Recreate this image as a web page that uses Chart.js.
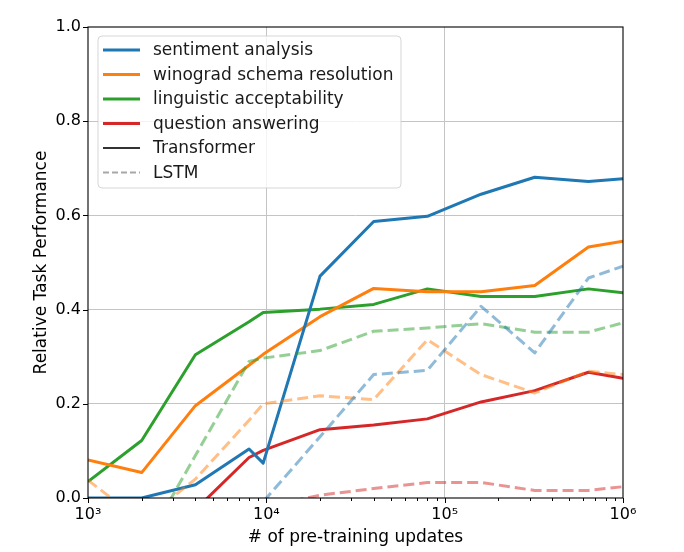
<!DOCTYPE html>
<html>
<head>
<meta charset="utf-8">
<script src="https://cdn.jsdelivr.net/npm/chart.js@4.4.0/dist/chart.umd.min.js"></script>
<style>
html,body{margin:0;padding:0;background:#fff;}
#wrap{width:684px;height:552px;position:relative;}
</style>
</head>
<body>
<div id="wrap"><canvas id="c" width="684" height="552"></canvas></div>
<script>
// ---- data ----
const updates = [1000, 2000, 4000, 8000, 9600, 20000, 40000, 80000, 160000, 320000, 640000, 1000000];

const tfSentiment   = [0.000, 0.000, 0.028, 0.104, 0.074, 0.471, 0.587, 0.598, 0.645, 0.681, 0.672, 0.678];
const tfWinograd    = [0.081, 0.054, 0.196, 0.282, 0.305, 0.385, 0.445, 0.438, 0.438, 0.451, 0.533, 0.545];
const tfLinguistic  = [0.035, 0.122, 0.304, 0.374, 0.394, 0.401, 0.411, 0.444, 0.428, 0.428, 0.444, 0.436];
const tfQA          = [-0.150, -0.080, -0.025, 0.086, 0.101, 0.145, 0.155, 0.168, 0.204, 0.228, 0.267, 0.254];

const lstmSentiment  = [-0.300, -0.200, -0.100, -0.030, -0.008, 0.130, 0.262, 0.271, 0.407, 0.308, 0.467, 0.492];
const lstmWinograd   = [0.038, -0.050, 0.040, 0.165, 0.200, 0.217, 0.209, 0.336, 0.262, 0.223, 0.269, 0.262];
const lstmLinguistic = [-0.300, -0.110, 0.090, 0.290, 0.297, 0.313, 0.354, 0.361, 0.370, 0.352, 0.352, 0.372];
const lstmQA         = [-0.300, -0.250, -0.200, -0.050, -0.020, 0.006, 0.020, 0.033, 0.033, 0.016, 0.016, 0.024];

const taskNames = ['sentiment analysis', 'winograd schema resolution', 'linguistic acceptability', 'question answering'];
const modelNames = ['Transformer', 'LSTM'];

const xTickValues = [1000,2000,3000,4000,5000,6000,7000,8000,9000,
                     10000,20000,30000,40000,50000,60000,70000,80000,90000,
                     100000,200000,300000,400000,500000,600000,700000,800000,900000,1000000];
const xMajorLabels = {1000:'10³', 10000:'10⁴', 100000:'10⁵', 1000000:'10⁶'};
const yTickValues = [0, 0.2, 0.4, 0.6, 0.8, 1.0];

const xTitle = '# of pre-training updates';
const yTitle = 'Relative Task Performance';

// ---- styles ----
const FONT = 'DejaVu Sans';
const colors = ['#1f77b4', '#ff7f0e', '#2ca02c', '#d62728'];
const lstmColors = ['rgba(31,119,180,0.5)', 'rgba(255,127,14,0.5)', 'rgba(44,160,44,0.5)', 'rgba(214,39,40,0.5)'];
const GRID = '#c4c4c4';

const isPow10 = v => Object.prototype.hasOwnProperty.call(xMajorLabels, v);

const tfSeries = [tfSentiment, tfWinograd, tfLinguistic, tfQA];
const lstmSeries = [lstmSentiment, lstmWinograd, lstmLinguistic, lstmQA];

const datasets = [];
lstmSeries.forEach((s, i) => {
  datasets.push({
    label: taskNames[i] + ' (' + modelNames[1] + ')',
    data: updates.map((x, k) => ({x, y: s[k]})),
    borderColor: lstmColors[i],
    borderWidth: 3,
    borderDash: [11, 5],
    borderCapStyle: 'butt',
    borderJoinStyle: 'round',
    pointRadius: 0,
    fill: false,
    tension: 0,
    clip: 0
  });
});
tfSeries.forEach((s, i) => {
  datasets.push({
    label: taskNames[i] + ' (' + modelNames[0] + ')',
    data: updates.map((x, k) => ({x, y: s[k]})),
    borderColor: colors[i],
    borderWidth: 3,
    borderCapStyle: 'butt',
    borderJoinStyle: 'round',
    pointRadius: 0,
    fill: false,
    tension: 0,
    clip: 0
  });
});

const legendItems = [
  {text: taskNames[0], color: colors[0], dash: [], width: 3},
  {text: taskNames[1], color: colors[1], dash: [], width: 3},
  {text: taskNames[2], color: colors[2], dash: [], width: 3},
  {text: taskNames[3], color: colors[3], dash: [], width: 3},
  {text: modelNames[0], color: '#333333', dash: [], width: 2},
  {text: modelNames[1], color: 'rgba(110,110,110,0.6)', dash: [6, 3], width: 2}
];

const framePlugin = {
  id: 'frameTicks',
  afterDatasetsDraw(chart) {
    const {ctx, chartArea: {left, right, top, bottom}, scales: {x, y}} = chart;
    ctx.save();
    ctx.strokeStyle = '#000';
    ctx.lineWidth = 1.1;
    ctx.setLineDash([]);
    ctx.strokeRect(left, top, right - left, bottom - top);
    ctx.lineWidth = 1;
    xTickValues.forEach(v => {
      const px = Math.round(x.getPixelForValue(v)) + 0.5;
      const len = isPow10(v) ? 5 : 3;
      ctx.beginPath();
      ctx.moveTo(px, bottom);
      ctx.lineTo(px, bottom + len);
      ctx.stroke();
    });
    yTickValues.forEach(v => {
      const py = Math.round(y.getPixelForValue(v)) + 0.5;
      ctx.beginPath();
      ctx.moveTo(left - 5, py);
      ctx.lineTo(left, py);
      ctx.stroke();
    });
    ctx.restore();
  }
};

const legendPlugin = {
  id: 'boxLegend',
  afterDraw(chart) {
    const {ctx, chartArea: {left, top}} = chart;
    const bx = left + 10, by = top + 9, bw = 303, bh = 152, r = 4;
    ctx.save();
    ctx.beginPath();
    ctx.moveTo(bx + r, by);
    ctx.lineTo(bx + bw - r, by);
    ctx.arcTo(bx + bw, by, bx + bw, by + r, r);
    ctx.lineTo(bx + bw, by + bh - r);
    ctx.arcTo(bx + bw, by + bh, bx + bw - r, by + bh, r);
    ctx.lineTo(bx + r, by + bh);
    ctx.arcTo(bx, by + bh, bx, by + bh - r, r);
    ctx.lineTo(bx, by + r);
    ctx.arcTo(bx, by, bx + r, by, r);
    ctx.closePath();
    ctx.fillStyle = 'rgba(255,255,255,0.8)';
    ctx.fill();
    ctx.strokeStyle = 'rgba(204,204,204,0.8)';
    ctx.lineWidth = 1;
    ctx.stroke();
    ctx.font = '17px "' + FONT + '"';
    ctx.textBaseline = 'middle';
    ctx.textAlign = 'left';
    legendItems.forEach((it, i) => {
      const cy = by + 14 + i * 24.5;
      ctx.beginPath();
      ctx.setLineDash(it.dash);
      ctx.strokeStyle = it.color;
      ctx.lineWidth = it.width;
      ctx.lineCap = 'butt';
      ctx.moveTo(bx + 5, cy);
      ctx.lineTo(bx + 42, cy);
      ctx.stroke();
      ctx.setLineDash([]);
      ctx.fillStyle = '#1a1a1a';
      ctx.fillText(it.text, bx + 55, cy + 1);
    });
    ctx.restore();
  }
};

Chart.defaults.font.family = FONT;

new Chart(document.getElementById('c'), {
  type: 'line',
  data: {datasets},
  options: {
    responsive: false,
    devicePixelRatio: 1,
    animation: false,
    layout: {padding: {left: 0, top: 27, right: 61, bottom: 0}},
    plugins: {legend: {display: false}, tooltip: {enabled: false}},
    scales: {
      x: {
        type: 'logarithmic',
        min: 1000,
        max: 1000000,
        afterBuildTicks: s => { s.ticks = xTickValues.map(v => ({value: v, major: isPow10(v)})); },
        afterFit: s => { s.height = 54; },
        ticks: {
          autoSkip: false, maxRotation: 0, minRotation: 0,
          padding: 7,
          color: '#000',
          font: {size: 16, family: FONT},
          callback: v => (xMajorLabels[v] !== undefined ? xMajorLabels[v] : '')
        },
        grid: {
          drawTicks: false,
          lineWidth: 1,
          color: c => (c.tick && isPow10(c.tick.value) && c.tick.value > 1000 && c.tick.value < 1000000) ? GRID : 'rgba(0,0,0,0)'
        },
        border: {display: false},
        title: {display: true, text: xTitle, color: '#000', font: {size: 17, family: FONT}, padding: {top: 0, bottom: 4}}
      },
      y: {
        type: 'linear',
        min: 0,
        max: 1,
        afterBuildTicks: s => { s.ticks = yTickValues.map(v => ({value: v})); },
        afterFit: s => { s.width = 88; },
        ticks: {
          padding: 7,
          color: '#000',
          font: {size: 16, family: FONT},
          callback: v => Number(v).toFixed(1)
        },
        grid: {
          drawTicks: false,
          lineWidth: 1,
          color: c => (c.tick && c.tick.value > 0.01 && c.tick.value < 0.99) ? GRID : 'rgba(0,0,0,0)'
        },
        border: {display: false},
        title: {display: true, text: yTitle, color: '#000', font: {size: 17, family: FONT}, padding: {top: 31, bottom: 0}}
      }
    }
  },
  plugins: [framePlugin, legendPlugin]
});
</script>
</body>
</html>
